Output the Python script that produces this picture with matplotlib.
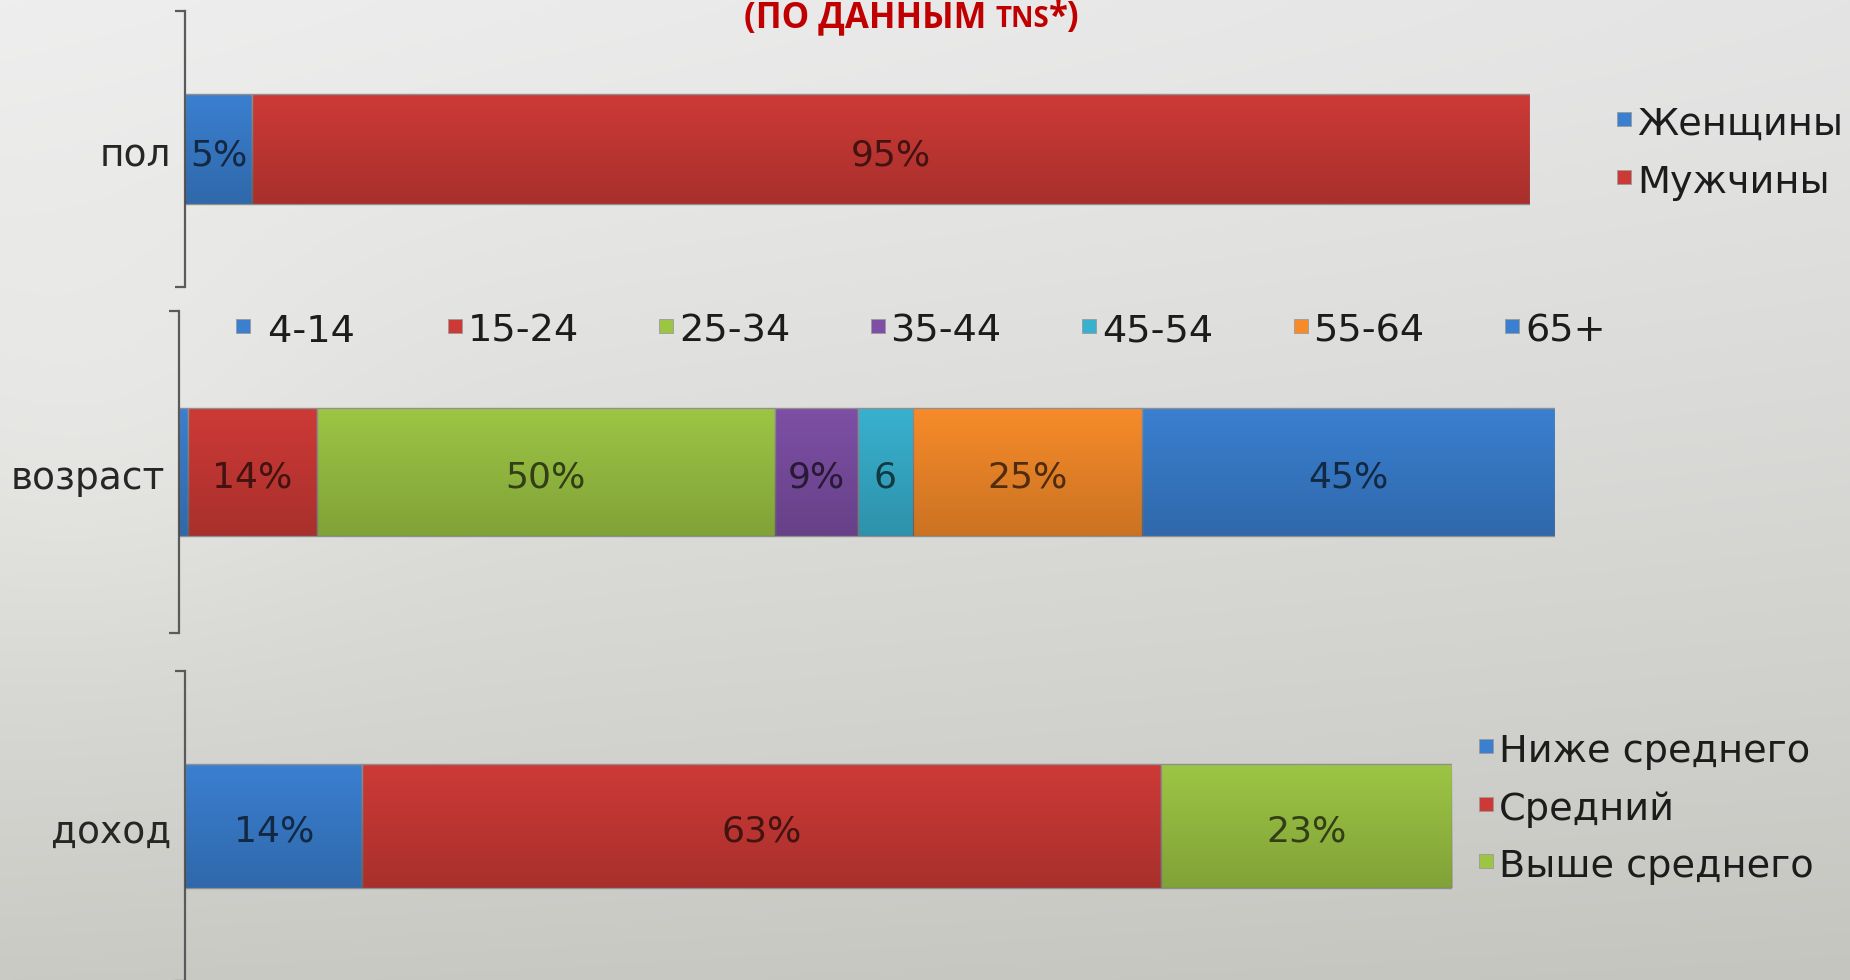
import numpy as np
import matplotlib
matplotlib.use("Agg")
import matplotlib.pyplot as plt
from matplotlib.patches import Rectangle
from matplotlib.colors import to_rgb

# ---------------- data ----------------
cat_labels = ["пол", "возраст", "доход"]

sex_labels = ["Женщины", "Мужчины"]
sex_values = [5, 95]
sex_text = ["5%", "95%"]

age_labels = ["4-14", "15-24", "25-34", "35-44", "45-54", "55-64", "65+"]
age_values = [1, 14, 50, 9, 6, 25, 45]
age_text = ["", "14%", "50%", "9%", "6", "25%", "45%"]

income_labels = ["Ниже среднего", "Средний", "Выше среднего"]
income_values = [14, 63, 23]
income_text = ["14%", "63%", "23%"]

title_parts = ["(ПО ДАННЫМ ", "TNS", "*)"]

# ---------------- styles ----------------
BLUE, RED, GREEN = "#3a7fd0", "#cd3a36", "#9dc544"
PURPLE, CYAN, ORANGE = "#7d4fa5", "#38b1cf", "#f78b2a"
sex_colors = [BLUE, RED]
age_colors = [BLUE, RED, GREEN, PURPLE, CYAN, ORANGE, BLUE]
income_colors = [BLUE, RED, GREEN]

W, H = 1850, 980
fig = plt.figure(figsize=(W / 100, H / 100), dpi=100)

# background gradient
bg = fig.add_axes([0, 0, 1, 1])
bg.set_zorder(-5)
bg.axis("off")
yy, xx = np.mgrid[0:1:240j, 0:1:370j]
v = 238 - 36 * yy ** 1.2 - 10 * xx * (1 - 0.5 * yy) + 6 * np.exp(-((xx - 0.05) ** 2 / 0.02 + (yy - 0.45) ** 2 / 0.05))
img = np.stack([v, v, v - 5 * yy], axis=-1) / 255.0
bg.imshow(np.clip(img, 0, 1), aspect="auto", extent=(0, 1, 0, 1), interpolation="bicubic")
bg.set_xlim(0, 1)
bg.set_ylim(0, 1)


def rect(l, t, r, b):
    return [l / W, 1 - b / H, (r - l) / W, (b - t) / H]


def darker(c, f=0.32):
    r, g, b = to_rgb(c)
    return (r * f, g * f, b * f)


def draw_panel(box, cat, values, texts, colors, xmax):
    ax = fig.add_axes(rect(*box))
    ax.set_facecolor("none")
    lefts = np.concatenate([[0], np.cumsum(values)[:-1]])
    bars = ax.barh(0, values, left=lefts, height=0.4, color=colors,
                   edgecolor="#8f8f8f", linewidth=1.0, zorder=2)
    grad = np.zeros((64, 1, 4))
    grad[:, 0, 3] = np.linspace(0.0, 0.18, 64)
    for p in bars:
        x0, y0 = p.get_x(), p.get_y()
        ax.imshow(grad, extent=(x0, x0 + p.get_width(), y0, y0 + p.get_height()),
                  aspect="auto", origin="upper", zorder=3, interpolation="bilinear")
    for l, v, t, c in zip(lefts, values, texts, colors):
        if t:
            ax.annotate(t, xy=(l + v / 2, 0), xytext=(0, -16), textcoords="offset pixels",
                        ha="center", va="baseline", fontsize=26, color=darker(c), zorder=4)
    ax.annotate(cat, xy=(0, 0), xycoords=("axes fraction", "data"), xytext=(-14, -17),
                textcoords="offset pixels", ha="right", va="baseline", fontsize=27,
                color="#262626")
    ax.set_xlim(0, xmax)
    ax.set_ylim(-0.5, 0.5)
    for s in ["top", "right", "bottom"]:
        ax.spines[s].set_visible(False)
    ax.spines["left"].set_color("#5a5a5a")
    ax.spines["left"].set_linewidth(1.6)
    ax.xaxis.set_visible(False)
    ax.set_yticks([])
    ax.set_yticks([-0.5, 0.5], minor=True)
    ax.tick_params(axis="y", which="minor", length=7, width=1.6, color="#5a5a5a",
                   direction="out", labelleft=False)
    return ax


draw_panel((185, 11, 1530, 287), cat_labels[0], sex_values, sex_text, sex_colors, sum(sex_values))
draw_panel((179, 311, 1555, 633), cat_labels[1], age_values, age_text, age_colors, sum(age_values))
draw_panel((185, 671, 1452, 981), cat_labels[2], income_values, income_text, income_colors, sum(income_values))


def legend_item(x, baseline, label, color):
    s = 14
    fig.add_artist(Rectangle((x / W, 1 - (baseline - 23 + s) / H), s / W, s / H,
                             transform=fig.transFigure, facecolor=color,
                             edgecolor="#9a9a9a", linewidth=0.6))
    fig.text((x + 20) / W, 1 - baseline / H, label, fontsize=27.5, color="#1c1c1c",
             va="baseline", ha="left")


for i, (lab, col) in enumerate(zip(sex_labels, sex_colors)):
    legend_item(1617, 135 + 58 * i, lab, col)
for i, (lab, col) in enumerate(zip(age_labels, age_colors)):
    legend_item(236 + 211.5 * i, 342, " " + lab if i == 0 else lab, col)
for i, (lab, col) in enumerate(zip(income_labels, income_colors)):
    legend_item(1479, 762 + 57.5 * i, lab, col)

# title with small-caps TNS
renderer = fig.canvas.get_renderer()
sizes = [25, 20, 25]
texts = []
for part, fs in zip(title_parts, sizes):
    t = fig.text(0, 1 - 27 / H, part, fontsize=fs, fontweight="bold", color="#c00000",
                 family=["Open Sans", "DejaVu Sans"], va="baseline", ha="left")
    texts.append(t)
widths = [t.get_window_extent(renderer).width for t in texts]
total = sum(widths)
x = 912 - total / 2
for t, w in zip(texts, widths):
    t.set_x(x / W)
    x += w

fig.savefig("out.png", dpi=100)
